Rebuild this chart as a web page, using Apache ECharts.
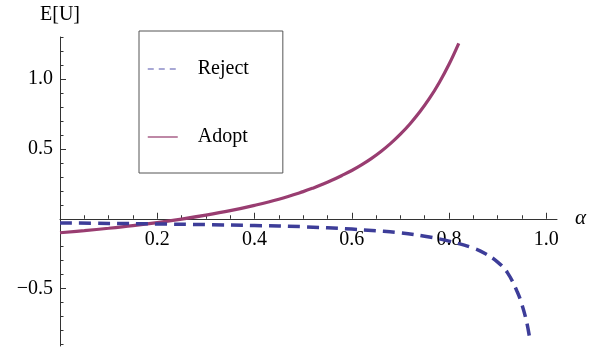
<!DOCTYPE html>
<html>
<head>
<meta charset="utf-8">
<script src="https://cdn.jsdelivr.net/npm/echarts@6/dist/echarts.min.js"></script>
<style>html,body{margin:0;padding:0;background:#fff}#c{width:600px;height:355px}</style>
</head>
<body>
<div id="c"></div>
<script>
// ---- data ----
var adoptAlpha  = [0, 0.05, 0.10, 0.15, 0.20, 0.25, 0.30, 0.35, 0.40, 0.45, 0.50, 0.52, 0.54, 0.56, 0.58, 0.60, 0.62, 0.64, 0.66, 0.68, 0.70, 0.72, 0.74, 0.76, 0.78, 0.80, 0.82];
var adoptValues = [-0.100, -0.085, -0.068, -0.049, -0.027, -0.002, 0.026, 0.058, 0.096, 0.140, 0.194, 0.219, 0.247, 0.277, 0.310, 0.345, 0.385, 0.430, 0.481, 0.539, 0.605, 0.680, 0.765, 0.862, 0.975, 1.105, 1.255];
var rejectAlpha  = [0, 0.10, 0.20, 0.30, 0.40, 0.50, 0.60, 0.65, 0.70, 0.75, 0.80, 0.85, 0.875, 0.90, 0.92, 0.94, 0.95, 0.96, 0.967];
var rejectValues = [-0.030, -0.033, -0.037, -0.042, -0.048, -0.057, -0.074, -0.086, -0.100, -0.125, -0.160, -0.210, -0.250, -0.310, -0.385, -0.520, -0.615, -0.745, -0.880];
var xMajorTicks = [0.2, 0.4, 0.6, 0.8, 1.0];
var xMinorTicks = [0.05, 0.10, 0.15, 0.25, 0.30, 0.35, 0.45, 0.50, 0.55, 0.65, 0.70, 0.75, 0.85, 0.90, 0.95];
var yMajorTicks = [-0.5, 0.5, 1.0];
var yMinorTicks = [-0.9, -0.8, -0.7, -0.6, -0.4, -0.3, -0.2, -0.1, 0.1, 0.2, 0.3, 0.4, 0.6, 0.7, 0.8, 0.9, 1.1, 1.2, 1.3];
var seriesNames = ['Reject', 'Adopt'];

function pairs(xs, ys) { return xs.map(function (x, i) { return [x, ys[i]]; }); }
function fmt(v) { return (v < 0 ? '\u2212' : '') + Math.abs(v).toFixed(1); }

var FONT = 'Liberation Serif';
var AX = '#333';
var X_MIN = 0, X_MAX = 1.022, Y_MIN = -0.91, Y_MAX = 1.3;
var H = 355, G_TOP = 37, G_BOTTOM = 9;
var plotH = H - G_TOP - G_BOTTOM;
// move the x axis up from the grid bottom to y = 0
var xOffset = -plotH * (0 - Y_MIN) / (Y_MAX - Y_MIN);

var chart = echarts.init(document.getElementById('c'), null, {renderer: 'canvas'});
chart.setOption({
  animation: false,
  backgroundColor: '#fff',
  grid: {left: 60, right: 43, top: G_TOP, bottom: G_BOTTOM, containLabel: false, outerBoundsMode: 'none'},
  legend: {
    left: 139, top: 31,
    orient: 'vertical',
    padding: [28, 34, 26, 8],
    itemGap: 48,
    itemWidth: 30, itemHeight: 14,
    borderColor: '#555', borderWidth: 1,
    selectedMode: false,
    textStyle: {fontFamily: FONT, fontSize: 20, color: '#000', padding: [0, 0, 0, 15], lineHeight: 14},
    data: [
      {name: seriesNames[0], itemStyle: {opacity: 0}, lineStyle: {color: '#8c8cc8', width: 1.5, type: [6, 5]}},
      {name: seriesNames[1], itemStyle: {opacity: 0}, lineStyle: {color: '#a86088', width: 1.5, type: 'solid'}}
    ]
  },
  xAxis: [{
    type: 'value', min: X_MIN, max: X_MAX, position: 'bottom', offset: xOffset,
    name: '\u03b1', nameLocation: 'end', nameGap: 18,
    nameTextStyle: {fontFamily: FONT, fontStyle: 'italic', fontSize: 21, color: '#000', verticalAlign: 'middle'},
    axisLine: {onZero: false, lineStyle: {color: AX, width: 1}},
    axisTick: {show: true, inside: true, length: 6, customValues: xMajorTicks, lineStyle: {color: AX}},
    axisLabel: {customValues: xMajorTicks, formatter: fmt, fontFamily: FONT, fontSize: 20, color: '#000', margin: 11},
    splitLine: {show: false}
  }, {
    type: 'value', min: X_MIN, max: X_MAX, position: 'bottom', offset: xOffset,
    axisLine: {show: false, onZero: false},
    axisTick: {show: true, inside: true, length: 3.5, customValues: xMinorTicks, lineStyle: {color: AX}},
    axisLabel: {show: false},
    splitLine: {show: false}
  }],
  yAxis: [{
    type: 'value', min: Y_MIN, max: Y_MAX, position: 'left',
    name: 'E[U]', nameLocation: 'end', nameGap: 12,
    nameTextStyle: {fontFamily: FONT, fontSize: 20, color: '#000'},
    axisLine: {onZero: false, lineStyle: {color: AX, width: 1}},
    axisTick: {show: true, inside: true, length: 6, customValues: yMajorTicks, lineStyle: {color: AX}},
    axisLabel: {customValues: yMajorTicks, formatter: fmt, fontFamily: FONT, fontSize: 20, color: '#000', margin: 7},
    splitLine: {show: false}
  }, {
    type: 'value', min: Y_MIN, max: Y_MAX, position: 'left',
    axisLine: {show: false, onZero: false},
    axisTick: {show: true, inside: true, length: 3.5, customValues: yMinorTicks, lineStyle: {color: AX}},
    axisLabel: {show: false},
    splitLine: {show: false}
  }],
  series: [{
    name: seriesNames[0], type: 'line', xAxisIndex: 0, yAxisIndex: 0,
    data: pairs(rejectAlpha, rejectValues),
    smooth: 0.4, showSymbol: false, symbol: 'none',
    lineStyle: {color: '#3d3d99', width: 3.5, type: [12, 7], cap: 'butt'},
    itemStyle: {color: '#3d3d99'}, z: 3
  }, {
    name: seriesNames[1], type: 'line', xAxisIndex: 0, yAxisIndex: 0,
    data: pairs(adoptAlpha, adoptValues),
    smooth: 0.4, showSymbol: false, symbol: 'none',
    lineStyle: {color: '#993d71', width: 3.2},
    itemStyle: {color: '#993d71'}, z: 2
  }]
});
</script>
</body>
</html>
